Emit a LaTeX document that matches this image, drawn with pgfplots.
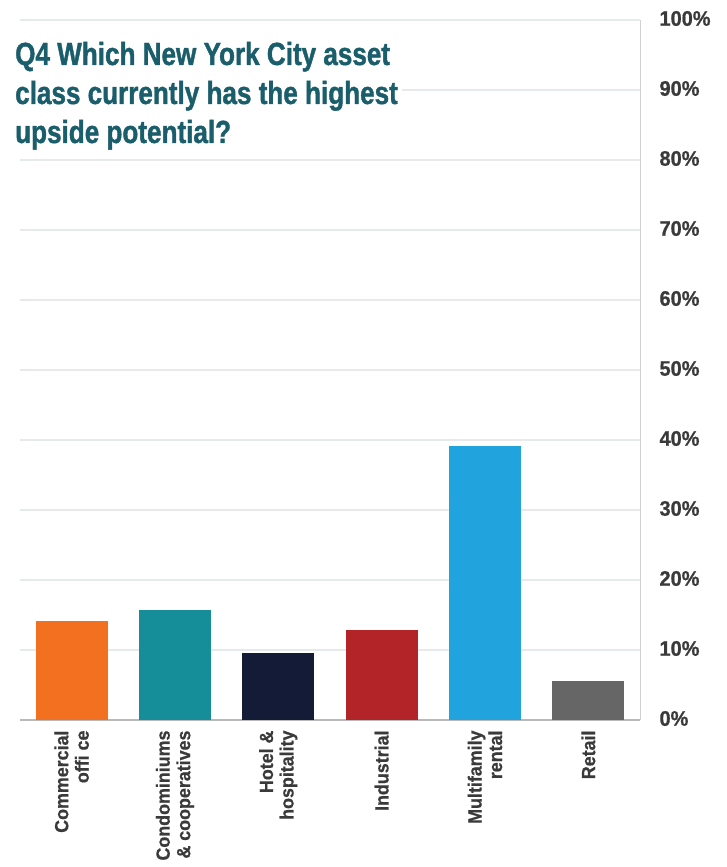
\documentclass[border=0pt]{standalone}
\usepackage{fontspec}
\setmainfont{Liberation Sans}
\newfontfamily\titlefont[FakeStretch=0.815, BoldFeatures={FakeBold=1.2}]{Liberation Sans}
\newfontfamily\tickfont[FakeStretch=0.95, BoldFeatures={FakeBold=0.8}]{Liberation Sans}
\newfontfamily\catfont[FakeStretch=0.94, BoldFeatures={FakeBold=0.6}]{Liberation Sans}
\usepackage{pgfplots}
\pgfplotsset{compat=1.18}
\definecolor{titleteal}{HTML}{1B5E6B}
\definecolor{ticktext}{HTML}{3A3A3A}
\definecolor{gridgray}{HTML}{E6EAEA}
\definecolor{c1}{HTML}{F37021}
\definecolor{c2}{HTML}{168E9A}
\definecolor{c3}{HTML}{141B37}
\definecolor{c4}{HTML}{B22427}
\definecolor{c5}{HTML}{21A3DD}
\definecolor{c6}{HTML}{666666}
\begin{document}
\begin{tikzpicture}
\begin{axis}[
    scale only axis,
    width=620pt, height=700pt,
    xmin=-0.5, xmax=5.5,
    ymin=0, ymax=100,
    ybar, bar width=72pt, bar shift=0pt,
    axis x line*=bottom,
    axis y line*=right,
    x axis line style={color=gray!55, line width=2pt},
    y axis line style={color=gray!35, line width=1pt},
    major tick length=0pt,
    ytick={0,10,...,100},
    yticklabels={0\%,10\%,20\%,30\%,40\%,50\%,60\%,70\%,80\%,90\%,100\%},
    yticklabel style={font=\tickfont\bfseries\fontsize{21}{21}\selectfont, color=ticktext, xshift=16pt, yshift=1.5pt},
    ymajorgrids,
    grid style={color=gridgray, line width=1.2pt},
    xtick={0,...,5},
    xticklabels={{Commercial\\offi ce},{Condominiums\\\& cooperatives},{Hotel \&\\hospitality},{Industrial},{Multifamily\\rental},{Retail}},
    xticklabel shift=7pt,
    xticklabel style={rotate=90, anchor=east, align=right, font=\catfont\bfseries\fontsize{19}{20.5}\selectfont, color=ticktext},
]
\addplot[fill=c1, draw=none] coordinates {(0,14.1)};
\addplot[fill=c2, draw=none] coordinates {(1,15.7)};
\addplot[fill=c3, draw=none] coordinates {(2,9.6)};
\addplot[fill=c4, draw=none] coordinates {(3,12.9)};
\addplot[fill=c5, draw=none] coordinates {(4,39.1)};
\addplot[fill=c6, draw=none] coordinates {(5,5.6)};
\end{axis}
% title box over the gridlines, top left of the plot area
\fill[white] (-8pt,568pt) rectangle (382pt,690pt);
\begin{scope}[every node/.style={anchor=base west, inner sep=0pt, text=titleteal,
    font=\titlefont\bfseries\fontsize{32}{39}\selectfont}]
\node at (-5pt,655pt) {Q4 Which New York City asset};
\node at (-5pt,616pt) {class currently has the highest};
\node at (-5pt,577pt) {upside potential?};
\end{scope}
\pgfresetboundingbox
\path[use as bounding box] (-20pt,-147pt) rectangle (706pt,720pt);
\end{tikzpicture}
\end{document}
